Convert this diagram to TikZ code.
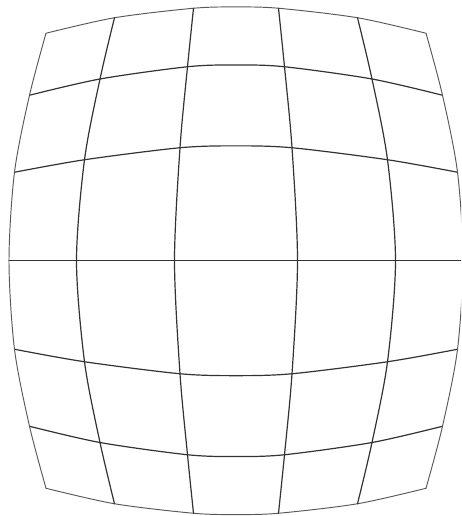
\documentclass[tikz,border=0pt]{standalone}
\begin{document}
\begin{tikzpicture}[x=1pt,y=-1pt,
  gridline/.style={draw=black!80, line width=1.2pt, line cap=round, line join=round},
  edgeline/.style={draw=black!65, line width=0.95pt, line cap=round, line join=round}]
\useasboundingbox (0,0) rectangle (461,516);
\clip (0,0) rectangle (461,516);
\begin{scope}[shift={(236,260.75)}]
  % horizontal lines (upper half mirrored to lower half)
  \foreach \s in {1,-1}{
    \begin{scope}[yscale=\s]
      \draw[edgeline] plot[smooth] coordinates {(-190,-227.5) (-121.5,-243) (-42.5,-252.5) (0,-253.8) (42.5,-252.5) (121.5,-243) (190,-227.5)};
      \draw[gridline] plot[smooth] coordinates {(-206.5,-165.5) (-136,-181.75) (-48.5,-194) (0,-195.8) (48.5,-194) (136,-181.75) (206.5,-165.5)};
      \draw[gridline] plot[smooth] coordinates {(-221.5,-88.5) (-151.5,-101) (-56,-113) (0,-114.9) (56,-113) (151.5,-101) (221.5,-88.5)};
    \end{scope}
  }
  % middle horizontal
  \coordinate (ml) at (-227,0);
  \coordinate (mr) at (227,0);
  \draw[gridline] (ml) -- (mr);
  % vertical lines (left half mirrored to right half)
  \foreach \s in {1,-1}{
    \begin{scope}[xscale=\s]
      \draw[edgeline] plot[smooth] coordinates {(-190,-227.5) (-206.5,-165.5) (-221.5,-88.5) (-227,0) (-221.5,88.5) (-206.5,165.5) (-190,227.5)};
      \draw[gridline] plot[smooth] coordinates {(-121.5,-243) (-136,-181.75) (-151.5,-101) (-159.5,0) (-151.5,101) (-136,181.75) (-121.5,243)};
      \draw[gridline] plot[smooth] coordinates {(-42.5,-252.5) (-48.5,-194) (-56,-113) (-61.5,0) (-56,113) (-48.5,194) (-42.5,252.5)};
    \end{scope}
  }
\end{scope}
\end{tikzpicture}
\end{document}
